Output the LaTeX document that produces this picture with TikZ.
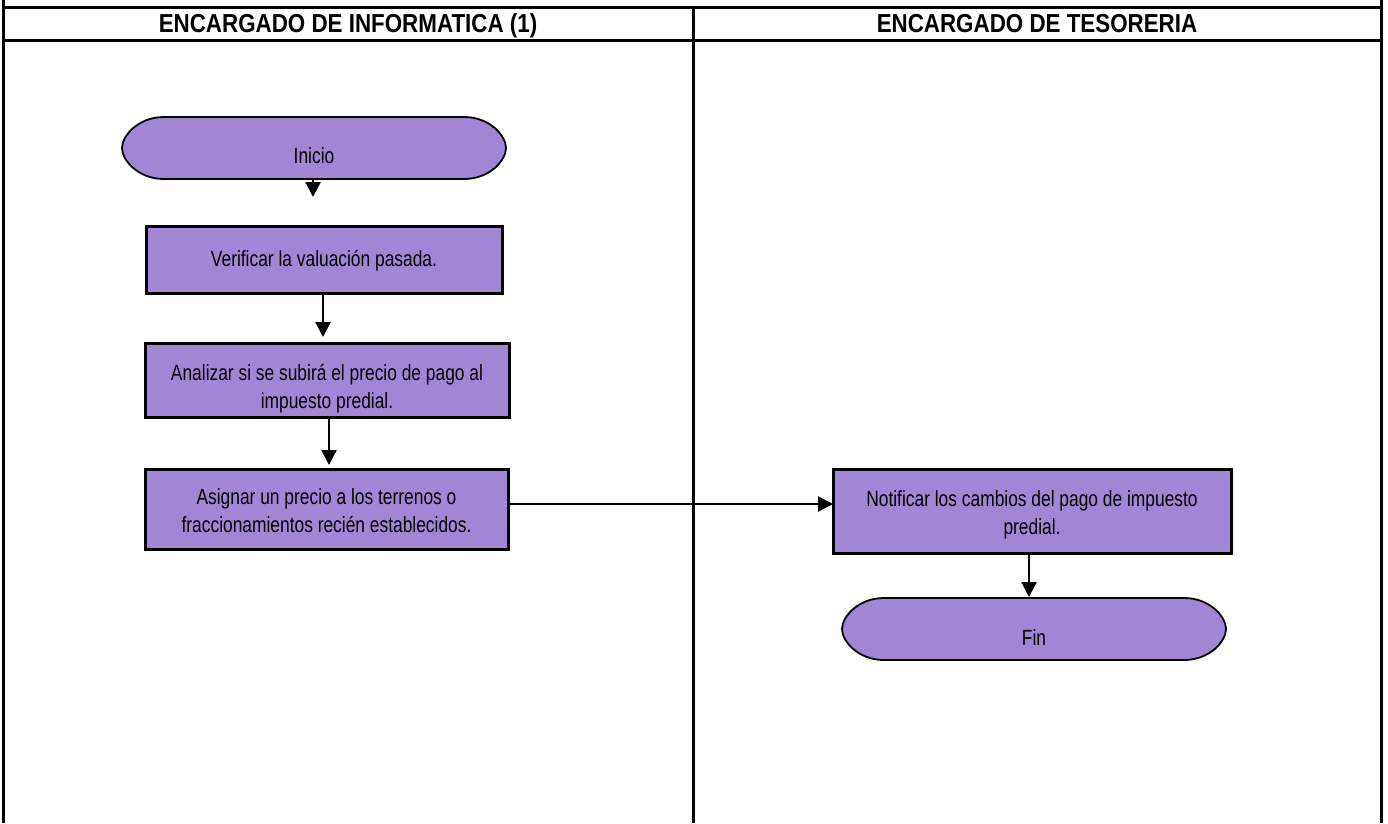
\documentclass[tikz,border=0pt]{standalone}
\usepackage{fontspec}
\setmainfont{Liberation Sans}
\newfontfamily\bodyfont[FakeStretch=0.79]{Liberation Sans}
\newfontfamily\headfont[FakeStretch=0.86]{Liberation Sans}
\usetikzlibrary{arrows.meta,calc}
\definecolor{boxfill}{RGB}{162,134,214}
\begin{document}
\begin{tikzpicture}[x=1pt,y=-1pt,
  gridline/.style={line width=3pt},
  procbox/.style={draw, line width=3pt, fill=boxfill, inner sep=0pt, outer sep=0pt},
  termnode/.style={minimum width=384pt, minimum height=62pt, inner sep=0pt, outer sep=0pt},
  lbl/.style={font=\bodyfont\fontsize{22}{28}\selectfont, align=center, inner sep=0pt},
  hdr/.style={font=\headfont\bfseries\fontsize{26}{30}\selectfont, inner sep=0pt},
  arr/.style={line width=2.2pt, -{Triangle[width=15pt,length=15pt]}},
  termshape/.pic={
    \draw[line width=1.8pt, fill=boxfill]
      (-150,-31) -- (150,-31)
      .. controls (176,-31) and (192,-12) .. (192,0)
      .. controls (192,12) and (176,31) .. (150,31)
      -- (-150,31)
      .. controls (-176,31) and (-192,12) .. (-192,0)
      .. controls (-192,-12) and (-176,-31) .. (-150,-31) -- cycle;
  }
]
\useasboundingbox (0,0) rectangle (1388,823);

% table
\draw[gridline] (3,0) -- (3,823);
\draw[gridline] (1381,0) -- (1381,823);
\draw[gridline] (3,7.5) -- (1381,7.5);
\draw[gridline] (3,40) -- (1381,40);
\draw[gridline] (693,7.5) -- (693,823);
\node[hdr, anchor=base] (h1) at (348,32) {ENCARGADO DE INFORMATICA (1)};
\node[hdr, anchor=base] (h2) at (1037,32) {ENCARGADO DE TESORERIA};

% terminators
\pic at (314,148) {termshape};
\node[termnode] (ini) at (314,148) {};
\node[lbl, anchor=base] (tini) at (314,163) {Inicio};

\pic at (1034,629) {termshape};
\node[termnode] (fin) at (1034,629) {};
\node[lbl, anchor=base] (tfin) at (1034,645) {Fin};

% process boxes
\node[procbox, minimum width=356pt, minimum height=67pt] (ver) at (324,259.5) {};
\node[lbl, anchor=base] (tver) at (324,266) {Verificar la valuación pasada.};

\node[procbox, minimum width=364pt, minimum height=74pt] (ana) at (327,380) {};
\node[lbl] (tana) at (327,389) {Analizar si se subirá el precio de pago al\\impuesto predial.};

\node[procbox, minimum width=363pt, minimum height=80pt] (asi) at (326.5,509) {};
\node[lbl] (tasi) at (326.5,511) {Asignar un precio a los terrenos o\\fraccionamientos recién establecidos.};

\node[procbox, minimum width=398pt, minimum height=84pt] (not) at (1032,511) {};
\node[lbl] (tnot) at (1032,515) {Notificar los cambios del pago de impuesto\\predial.};

% connectors
\coordinate (a1) at (313,197);
\draw[arr] (ini.south -| a1) -- (a1);
\coordinate (a2) at (323,337);
\draw[arr] (ver.south -| a2) -- (a2);
\coordinate (a3) at (329,465);
\draw[arr] (ana.south -| a3) -- (a3);
\coordinate (hl) at (0,504);
\draw[arr] (asi.east |- hl) -- (not.west |- hl);
\coordinate (a4) at (1029,597);
\draw[arr] (not.south -| a4) -- (a4);
\end{tikzpicture}
\end{document}
